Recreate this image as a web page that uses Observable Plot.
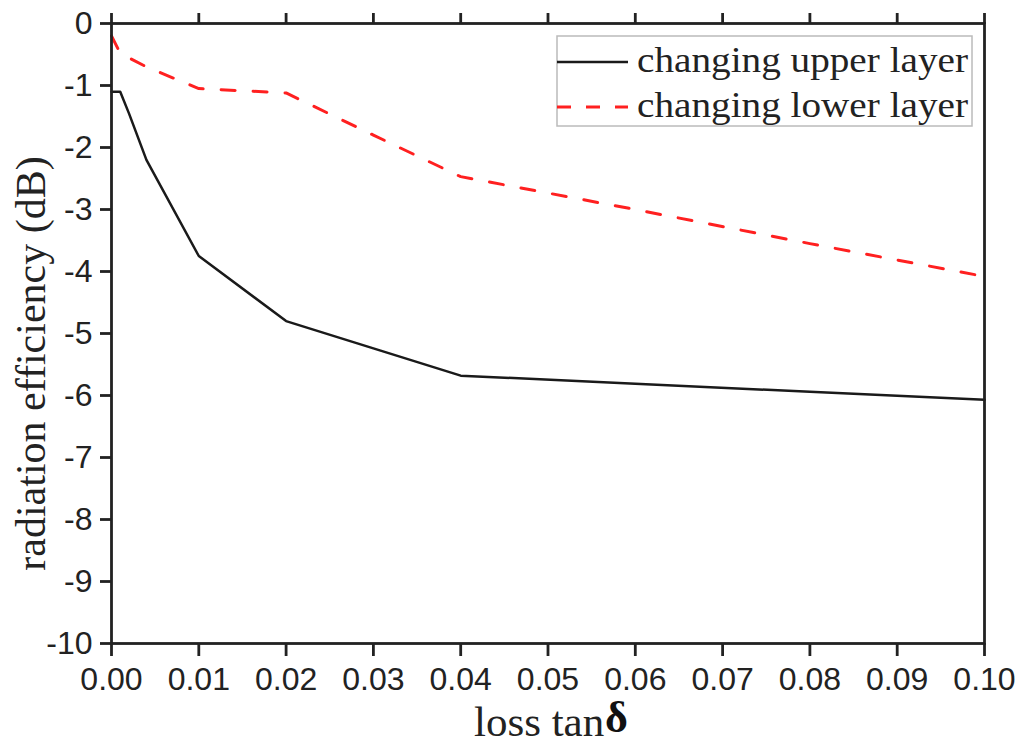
<!DOCTYPE html>
<html>
<head>
<meta charset="utf-8">
<script src="https://cdn.jsdelivr.net/npm/d3@7"></script>
<script src="https://cdn.jsdelivr.net/npm/@observablehq/plot@0.6"></script>
<style>
  html, body { margin: 0; padding: 0; background: #fff; }
  #chart svg { display: block; }
</style>
</head>
<body>
<div id="chart"></div>
<script>
// ---- data ----
const upperX = [0, 0.001, 0.002, 0.004, 0.01, 0.02, 0.03, 0.04, 0.06, 0.08, 0.1];
const upperY = [-1.1, -1.1, -1.45, -2.2, -3.75, -4.8, -5.24, -5.68, -5.81, -5.94, -6.07];
const lowerX = [0, 0.001, 0.004, 0.01, 0.02, 0.03, 0.04, 0.06, 0.08, 0.1];
const lowerY = [-0.2, -0.48, -0.7, -1.05, -1.12, -1.8, -2.47, -3.0, -3.55, -4.08];
const xTicks = [0, 0.01, 0.02, 0.03, 0.04, 0.05, 0.06, 0.07, 0.08, 0.09, 0.1];
const yTicks = [0, -1, -2, -3, -4, -5, -6, -7, -8, -9, -10];
const seriesNames = ["changing upper layer", "changing lower layer"];
const xLabel = "loss tan";
const xLabelSymbol = "δ";
const yLabel = "radiation efficiency (dB)";

const upper = upperX.map((x, i) => ({x, y: upperY[i]}));
const lower = lowerX.map((x, i) => ({x, y: lowerY[i]}));

const sans = "'Liberation Sans', Arial, sans-serif";
const serif = "'Liberation Serif', 'Times New Roman', serif";

const W = 1016, H = 747;
const mL = 111, mR = 32, mT = 23, mB = 104;

const chart = Plot.plot({
  width: W,
  height: H,
  marginLeft: mL,
  marginRight: mR,
  marginTop: mT,
  marginBottom: mB,
  style: {fontFamily: sans, background: "#fff", color: "#222"},
  x: {domain: [0, 0.1]},
  y: {domain: [-10, 0]},
  marks: [
    Plot.line(upper, {x: "x", y: "y", stroke: "#1a1a1a", strokeWidth: 2.5}),
    Plot.line(lower, {x: "x", y: "y", stroke: "#ff2020", strokeWidth: 3, strokeDasharray: "14,18"}),
    Plot.frame({stroke: "#222", strokeWidth: 2.8}),
    Plot.axisX({anchor: "bottom", ticks: xTicks, tickSize: 13, tickPadding: 11, tickFormat: d => d.toFixed(2),
      fontSize: 32, stroke: "#222", strokeWidth: 2.8, fill: "#222", label: null}),
    Plot.axisX({anchor: "top", ticks: xTicks, tickSize: 11, tickFormat: () => "", stroke: "#222", strokeWidth: 2.8, label: null}),
    Plot.axisY({anchor: "left", ticks: yTicks, tickSize: 11, tickPadding: 8, tickFormat: d => String(d),
      fontSize: 32, stroke: "#222", strokeWidth: 2.8, fill: "#222", label: null}),
    Plot.text([xLabel], {frameAnchor: "bottom", text: d => d, dy: 92, dx: -74, fontFamily: serif, fontSize: 43, fill: "#222", textAnchor: "start"}),
    Plot.text([xLabelSymbol], {frameAnchor: "bottom", text: d => d, dy: 88, dx: 57, fontFamily: serif, fontSize: 44, fontWeight: "bold", fill: "#111", textAnchor: "start"}),
    Plot.text([yLabel], {frameAnchor: "left", text: d => d, rotate: -90, dx: -80, dy: 30, fontFamily: serif, fontSize: 42, fill: "#222", textAnchor: "middle"})
  ]
});

// legend drawn inside the svg
const svg = d3.select(chart);
const lg = svg.append("g").attr("text-anchor", "start");
lg.append("rect").attr("x", 557).attr("y", 36).attr("width", 415).attr("height", 90)
  .attr("fill", "#fff").attr("stroke", "#bbb").attr("stroke-width", 1.5);
const rows = [
  {name: seriesNames[0], stroke: "#1a1a1a", dash: null, w: 2.5, y: 62},
  {name: seriesNames[1], stroke: "#ff2020", dash: "14,15", w: 3, y: 107}
];
rows.forEach(r => {
  const ln = lg.append("line").attr("x1", 557).attr("x2", 628).attr("y1", r.y).attr("y2", r.y)
    .attr("stroke", r.stroke).attr("stroke-width", r.w);
  if (r.dash) ln.attr("stroke-dasharray", r.dash);
  lg.append("text").attr("x", 637).attr("y", r.y + 10).attr("font-family", serif).attr("font-size", 36)
    .attr("text-anchor", "start").attr("textLength", 331).attr("lengthAdjust", "spacingAndGlyphs")
    .attr("fill", "#222").text(r.name);
});

document.getElementById("chart").appendChild(chart);
</script>
</body>
</html>
